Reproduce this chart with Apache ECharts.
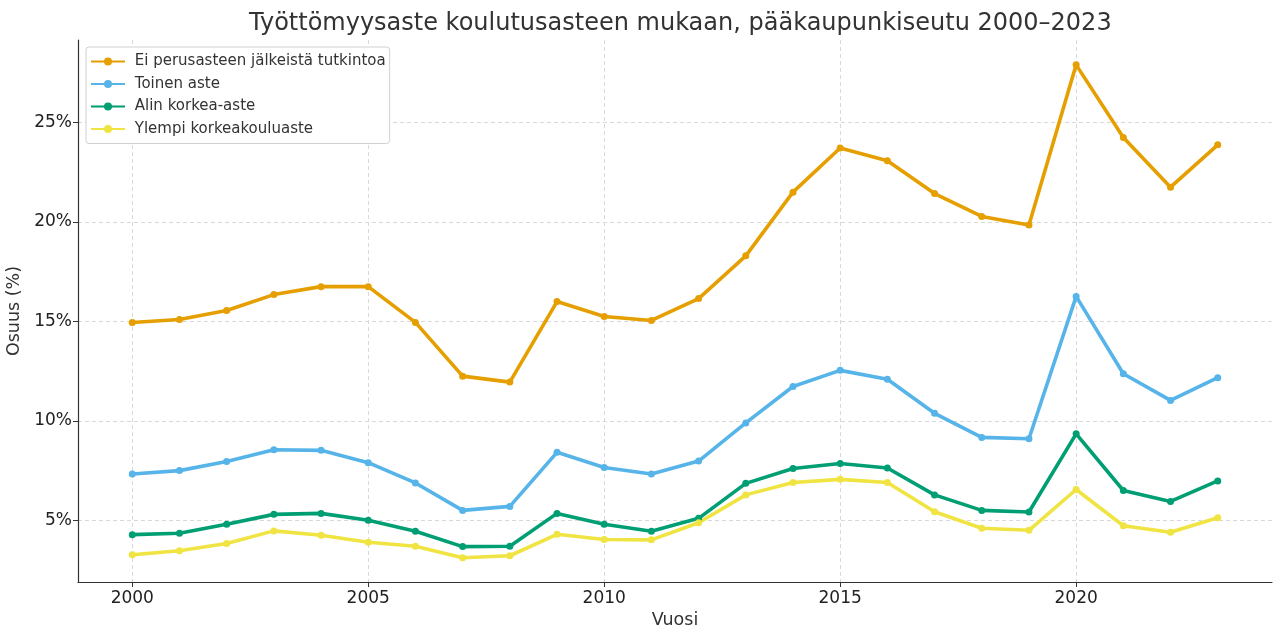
<!DOCTYPE html>
<html>
<head>
<meta charset="utf-8">
<script src="https://cdn.jsdelivr.net/npm/echarts@6/dist/echarts.min.js"></script>
<style>
  html, body { margin: 0; padding: 0; background: #fff; }
  #chart { width: 1274px; height: 628px; }
</style>
</head>
<body>
<div id="chart"></div>
<script>
// vuodet
const years = [2000, 2001, 2002, 2003, 2004, 2005, 2006, 2007, 2008, 2009, 2010, 2011,
  2012, 2013, 2014, 2015, 2016, 2017, 2018, 2019, 2020, 2021, 2022, 2023];

const seriesNames = ['Ei perusasteen jälkeistä tutkintoa', 'Toinen aste', 'Alin korkea-aste', 'Ylempi korkeakouluaste'];

const eiPerusaste = [14.95, 15.1, 15.55, 16.35, 16.75, 16.75, 14.95, 12.25, 11.95, 16.0, 15.25, 15.05,
  16.15, 18.3, 21.5, 23.72, 23.08, 21.43, 20.28, 19.85, 27.9, 24.25, 21.75, 23.88];
const toinenAste = [7.33, 7.5, 7.96, 8.55, 8.52, 7.9, 6.88, 5.5, 5.7, 8.42, 7.66, 7.33,
  7.98, 9.9, 11.73, 12.54, 12.09, 10.38, 9.17, 9.1, 16.26, 12.37, 11.03, 12.17];
const alinKorkea = [4.28, 4.35, 4.8, 5.3, 5.35, 5.0, 4.45, 3.68, 3.7, 5.35, 4.8, 4.45,
  5.1, 6.86, 7.61, 7.86, 7.63, 6.28, 5.5, 5.42, 9.35, 6.5, 5.95, 6.98];
const ylempiKorkea = [3.27, 3.47, 3.84, 4.47, 4.25, 3.9, 3.7, 3.12, 3.22, 4.3, 4.04, 4.02,
  4.88, 6.28, 6.9, 7.06, 6.9, 5.43, 4.6, 4.5, 6.55, 4.73, 4.4, 5.13];

const xTicks = [2000, 2005, 2010, 2015, 2020];
const yTicks = [5, 10, 15, 20, 25];

const colors = ['#E69F00', '#56B4E9', '#009E73', '#F0E442'];
const allValues = [eiPerusaste, toinenAste, alinKorkea, ylempiKorkea];

const font = 'DejaVu Sans';
const chart = echarts.init(document.getElementById('chart'));

const series = allValues.map((vals, i) => ({
  name: seriesNames[i],
  type: 'line',
  data: vals.map((v, j) => [years[j], v]),
  symbol: 'circle',
  symbolSize: 7,
  showSymbol: true,
  lineStyle: { width: 3.6, color: colors[i] },
  itemStyle: { color: colors[i] },
  emphasis: { disabled: true },
}));

const option = {
  animation: false,
  backgroundColor: '#fff',
  textStyle: { fontFamily: font },
  title: {
    text: 'Työttömyysaste koulutusasteen mukaan, pääkaupunkiseutu 2000–2023',
    left: 244,
    top: 7,
    textStyle: { fontFamily: font, fontSize: 24, fontWeight: 'normal', color: '#333' },
  },
  legend: {
    orient: 'vertical',
    left: 86,
    top: 47,
    data: seriesNames,
    formatter: (name) => ' ' + name,
    itemWidth: 34,
    itemHeight: 10,
    itemGap: 7.5,
    padding: [7, 4, 7, 4],
    backgroundColor: '#fff',
    borderColor: '#d0d0d0',
    borderWidth: 1,
    borderRadius: 3,
    textStyle: { fontFamily: font, fontSize: 15, color: '#333' },
  },
  grid: { left: 78, right: 2, top: 40, bottom: 46, outerBoundsMode: 'none', containLabel: false },
  xAxis: {
    type: 'value',
    min: 1998.85,
    max: 2024.15,
    name: 'Vuosi',
    nameLocation: 'middle',
    nameGap: 28,
    nameTextStyle: { fontFamily: font, fontSize: 17.5, color: '#333' },
    axisLine: { lineStyle: { color: '#333', width: 1.2 } },
    axisTick: { show: true, length: 5, lineStyle: { color: '#333' }, customValues: xTicks },
    axisLabel: { fontFamily: font, fontSize: 17, color: '#222', margin: 8, customValues: xTicks,
      formatter: (v) => String(v) },
    splitLine: { show: true, lineStyle: { color: '#d8d8d8', type: [4, 3] }, customValues: xTicks },
  },
  yAxis: {
    type: 'value',
    min: 1.9,
    max: 29.15,
    name: 'Osuus (%)',
    nameLocation: 'middle',
    nameGap: 53,
    nameRotate: 90,
    nameTextStyle: { fontFamily: font, fontSize: 17.5, color: '#333' },
    axisLine: { show: true, lineStyle: { color: '#333', width: 1.2 } },
    axisTick: { show: true, length: 5, lineStyle: { color: '#333' }, customValues: yTicks },
    axisLabel: { fontFamily: font, fontSize: 17, color: '#222', margin: 6, customValues: yTicks,
      formatter: (v) => v + '%' },
    splitLine: { show: true, lineStyle: { color: '#d8d8d8', type: [4, 3] }, customValues: yTicks },
  },
  series: series,
};

chart.setOption(option);
</script>
</body>
</html>
